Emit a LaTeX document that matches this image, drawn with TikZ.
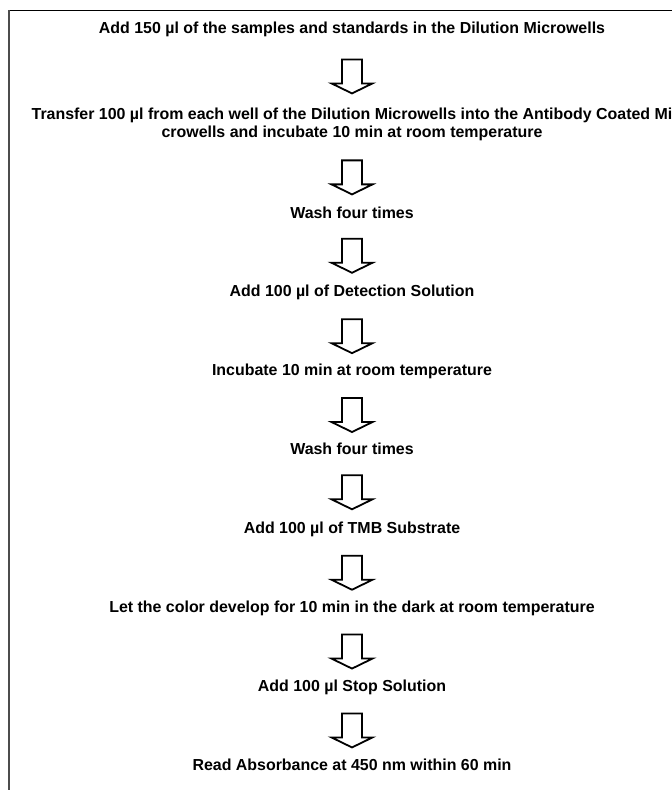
\documentclass[tikz,border=0pt]{standalone}
\usepackage{fontspec}
\setmainfont{Liberation Sans}
\usetikzlibrary{calc}
\tikzstyle{steptext} = [font=\bfseries\fontsize{16}{18}\selectfont, inner sep=0pt, align=center, anchor=base]
\tikzstyle{blockarrow} = [draw=black, line width=1.8bp, fill=white, line join=miter]
\tikzstyle{frameline} = [draw=black, line width=1.2bp]
\tikzset{pics/downarrow/.style={code={
	\draw[blockarrow] (-10,-17) -- (10,-17) -- (10,7) -- (20.5,7) -- (0,17) -- (-20.5,7) -- (-10,7) -- cycle;
}}}
\begin{document}
\begin{tikzpicture}[x=1bp, y=-1bp]
	\useasboundingbox (0,0) rectangle (672,790);
	\clip (0,0) rectangle (672,790);
	% frame, cut off at the right and at the bottom
	\draw[frameline] (9,10.5) -- (720,10.5);
	\draw[frameline, draw=black!70, line width=1.6bp] (9,10.5) -- (9,830);
	% steps of the procedure
	\node[steptext] (s1) at (352,34) {Add 150 µl of the samples and standards in the Dilution Microwells};
	\node[steptext] (s2) at (352,137) {Transfer 100 µl from each well of the Dilution Microwells into the Antibody Coated Mi\\crowells and incubate 10 min at room temperature};
	\node[steptext] (s3) at (352,218) {Wash four times};
	\node[steptext] (s4) at (352,296.9) {Add 100 µl of Detection Solution};
	\node[steptext] (s5) at (352,375.7) {Incubate 10 min at room temperature};
	\node[steptext] (s6) at (352,454.6) {Wash four times};
	\node[steptext] (s7) at (352,533.4) {Add 100 µl of TMB Substrate};
	\node[steptext] (s8) at (352,612.3) {Let the color develop for 10 min in the dark at room temperature};
	\node[steptext] (s9) at (352,691.1) {Add 100 µl Stop Solution};
	\node[steptext] (s10) at (352,770) {Read Absorbance at 450 nm within 60 min};
	% arrows between the steps
	\foreach \a/\b in {s1/s2, s2/s3, s3/s4, s4/s5, s5/s6, s6/s7, s7/s8, s8/s9, s9/s10}
		\pic at ($(\a.south)!.5!(\b.north)+(0,4)$) {downarrow};
\end{tikzpicture}
\end{document}
